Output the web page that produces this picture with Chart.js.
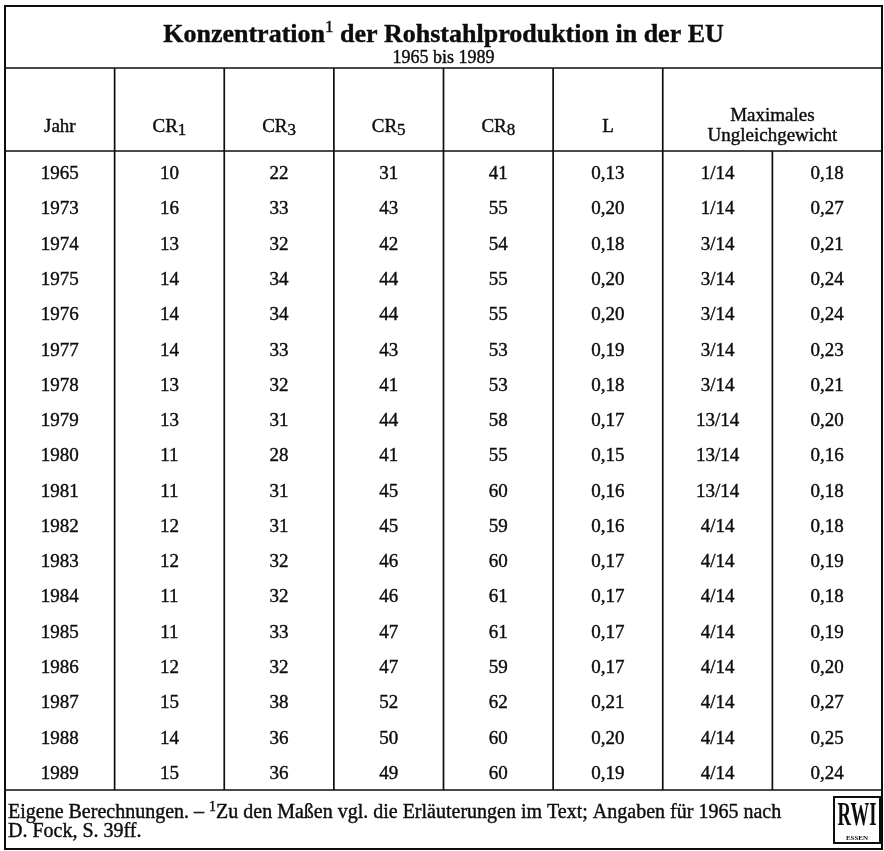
<!DOCTYPE html>
<html>
<head>
<meta charset="utf-8">
<script src="https://cdn.jsdelivr.net/npm/chart.js@4.4.1/dist/chart.umd.min.js"></script>
<style>
    html, body { margin: 0; padding: 0; background: #fff; }
    canvas { display: block; }
</style>
</head>
<body>
<canvas id="konzTable" width="884" height="851"></canvas>
<script>
// Table data
const years = [1965, 1973, 1974, 1975, 1976, 1977, 1978, 1979, 1980, 1981, 1982, 1983, 1984, 1985, 1986, 1987, 1988, 1989];
const cr1 = [10, 16, 13, 14, 14, 14, 13, 13, 11, 11, 12, 12, 11, 11, 12, 15, 14, 15];
const cr3 = [22, 33, 32, 34, 34, 33, 32, 31, 28, 31, 31, 32, 32, 33, 32, 38, 36, 36];
const cr5 = [31, 43, 42, 44, 44, 43, 41, 44, 41, 45, 45, 46, 46, 47, 47, 52, 50, 49];
const cr8 = [41, 55, 54, 55, 55, 53, 53, 58, 55, 60, 59, 60, 61, 61, 59, 62, 60, 60];
const lIndex = [0.13, 0.20, 0.18, 0.20, 0.20, 0.19, 0.18, 0.17, 0.15, 0.16, 0.16, 0.17, 0.17, 0.17, 0.17, 0.21, 0.20, 0.19];
const maxUngFrac = ["1/14", "1/14", "3/14", "3/14", "3/14", "3/14", "3/14", "13/14", "13/14", "13/14", "4/14", "4/14", "4/14", "4/14", "4/14", "4/14", "4/14", "4/14"];
const maxUngValue = [0.18, 0.27, 0.21, 0.24, 0.24, 0.23, 0.21, 0.20, 0.16, 0.18, 0.18, 0.19, 0.18, 0.19, 0.20, 0.27, 0.25, 0.24];

const colKeys = ["Jahr", "CR1", "CR3", "CR5", "CR8", "L", "MU1", "MU2"];
const headerMain = ["Jahr", "CR", "CR", "CR", "CR", "L"];
const headerSub = ["", "1", "3", "5", "8", ""];
const groupHeader = ["Maximales", "Ungleichgewicht"];

const title = ["Konzentration", "1", " der Rohstahlproduktion in der EU"];
const subtitle = "1965 bis 1989";
const footnote1 = ["Eigene Berechnungen. \u2013 ", "1", "Zu den Ma\u00dfen vgl. die Erl\u00e4uterungen im Text; Angaben f\u00fcr 1965 nach"];
const footnote2 = "D. Fock, S. 39ff.";

const dec = (v) => v.toFixed(2).replace(".", ",");
const columns = [
    { values: years, fmt: String },
    { values: cr1, fmt: String },
    { values: cr3, fmt: String },
    { values: cr5, fmt: String },
    { values: cr8, fmt: String },
    { values: lIndex, fmt: dec },
    { values: maxUngFrac, fmt: String },
    { values: maxUngValue, fmt: dec }
];

const FONT = '"Liberation Serif", "Times New Roman", serif';
const INK = "#0d0d0d";

// fill plus a hairline stroke, the scan's ink is a bit heavier than the font
function ink(ctx, s, x, y) {
    ctx.fillText(s, x, y);
    ctx.lineWidth = 0.4;
    ctx.strokeText(s, x, y);
}

// draws a run of text parts, every second part raised/lowered as script
function drawRuns(ctx, parts, x, y, size, weight, scriptSize, shift, align) {
    const widths = parts.map((p, i) => {
        ctx.font = (i % 2 ? "" : weight + " ") + (i % 2 ? scriptSize : size) + "px " + FONT;
        return ctx.measureText(p).width;
    });
    const total = widths.reduce((a, b) => a + b, 0);
    let cx = align === "center" ? x - total / 2 : x;
    ctx.textAlign = "left";
    ctx.textBaseline = "alphabetic";
    parts.forEach((p, i) => {
        ctx.font = (i % 2 ? "" : weight + " ") + (i % 2 ? scriptSize : size) + "px " + FONT;
        ink(ctx, p, cx, y + (i % 2 ? shift : 0));
        cx += widths[i];
    });
}

const tablePlugin = {
    id: "tableDraw",
    afterDatasetsDraw(chart) {
        const ctx = chart.ctx;
        const area = chart.chartArea;
        const xs = chart.scales.x;
        const half = (xs.getPixelForValue(1) - xs.getPixelForValue(0)) / 2;
        const outerTop = 6, outerBottom = 849, titleRule = 68;
        const headRule = area.top - 4;

        ctx.save();
        ctx.fillStyle = INK;
        ctx.strokeStyle = INK;

        // rules
        ctx.lineWidth = 1.7;
        const hline = (y) => { ctx.beginPath(); ctx.moveTo(area.left, y); ctx.lineTo(area.right, y); ctx.stroke(); };
        const vline = (x, y0, y1) => { ctx.beginPath(); ctx.moveTo(x, y0); ctx.lineTo(x, y1); ctx.stroke(); };
        hline(titleRule);
        hline(headRule);
        hline(area.bottom);
        for (let c = 1; c < colKeys.length; c++) {
            const x = xs.getPixelForValue(c) - half;
            vline(x, c === colKeys.length - 1 ? headRule : titleRule, area.bottom);
        }
        ctx.lineWidth = 2;
        ctx.strokeRect(area.left, outerTop, area.right - area.left, outerBottom - outerTop);

        // title + subtitle
        const midX = (area.left + area.right) / 2;
        drawRuns(ctx, title, midX, 42, 26, "bold", 17, -10, "center");
        ctx.font = "18px " + FONT;
        ctx.textAlign = "center";
        ink(ctx, subtitle, midX, 63);

        // column header
        const headY = headRule - 26;
        headerMain.forEach((h, c) => {
            const x = xs.getPixelForValue(c);
            if (headerSub[c]) {
                drawRuns(ctx, [h, headerSub[c]], x, headY + 6.5, 19, "normal", 17, 3, "center");
            } else {
                ctx.font = "19px " + FONT;
                ctx.textAlign = "center";
                ink(ctx, h, x, headY + 6.5);
            }
        });
        const gx = (xs.getPixelForValue(6) + xs.getPixelForValue(7)) / 2;
        ctx.font = "19px " + FONT;
        ctx.textAlign = "center";
        ink(ctx, groupHeader[0], gx, headY - 4);
        ink(ctx, groupHeader[1], gx, headY + 16);

        // cells, positioned by the datasets' points
        ctx.font = "19px " + FONT;
        ctx.textAlign = "center";
        chart.data.datasets.forEach((ds, d) => {
            const meta = chart.getDatasetMeta(d);
            meta.data.forEach((pt, r) => {
                ink(ctx, columns[d].fmt(columns[d].values[r]), pt.x, pt.y + 6.5);
            });
        });

        // footnote
        drawRuns(ctx, footnote1, 8, 818, 20, "normal", 14, -7, "left");
        ctx.font = "20px " + FONT;
        ctx.textAlign = "left";
        ink(ctx, footnote2, 8, 837);

        // RWI mark
        ctx.lineWidth = 2;
        ctx.strokeRect(834, 797, 46, 46);
        ctx.save();
        ctx.translate(857, 825);
        ctx.scale(0.55, 1);
        ctx.font = "bold 34px " + FONT;
        ctx.textAlign = "center";
        ctx.fillText("RWI", 0, 0);
        ctx.restore();
        ctx.font = "bold 7px " + FONT;
        ctx.textAlign = "center";
        ctx.fillText("ESSEN", 857, 840);
        ctx.restore();
    }
};

const datasets = columns.map((col, c) => ({
    label: colKeys[c],
    data: col.values.map((_, r) => ({ x: colKeys[c], y: String(years[r]) })),
    pointRadius: 0,
    pointHoverRadius: 0,
    showLine: false
}));

function buildTable() {
    new Chart(document.getElementById("konzTable"), {
        type: "scatter",
        data: { datasets: datasets },
        options: {
            responsive: false,
            animation: false,
            events: [],
            layout: { padding: { left: 5, right: 2, top: 155, bottom: 61 } },
            plugins: { legend: { display: false }, tooltip: { enabled: false } },
            scales: {
                x: { type: "category", labels: colKeys, offset: true, display: false },
                y: { type: "category", labels: years.map(String), offset: true, display: false }
            }
        },
        plugins: [tablePlugin]
    });
}

// make sure the serif face is ready before the canvas text is drawn
Promise.all([
    document.fonts.load('19px "Liberation Serif"'),
    document.fonts.load('bold 26px "Liberation Serif"')
]).then(buildTable, buildTable);
</script>
</body>
</html>
